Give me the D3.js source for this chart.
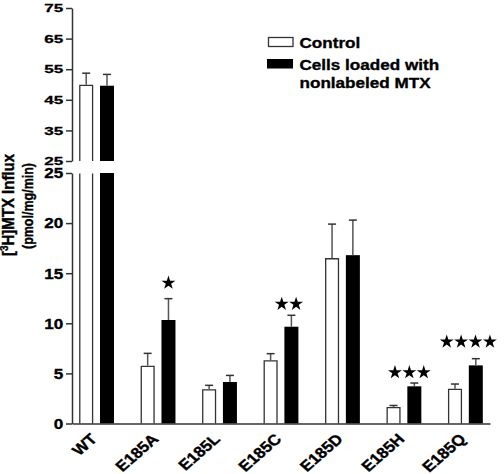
<!DOCTYPE html>
<html>
<head>
<meta charset="utf-8">
<script src="https://cdn.jsdelivr.net/npm/d3@7"></script>
<style>
  html, body { margin: 0; padding: 0; background: #fff; }
  svg { display: block; }
  text { font-family: "Liberation Sans", Arial, Helvetica, sans-serif; font-weight: bold; fill: #000; stroke: #000; stroke-width: 0.35px; }
</style>
</head>
<body>
<svg id="chart" width="504" height="474"></svg>
<script>
// ---- data ----
const categories = ["WT", "E185A", "E185L", "E185C", "E185D", "E185H", "E185Q"];
const control    = [49.9, 5.77, 3.41, 6.3, 16.5, 1.65, 3.47];
const controlErr = [3.8, 1.23, 0.4, 0.67, 3.4, 0.15, 0.47];
const loaded     = [49.6, 10.33, 4.14, 9.66, 16.8, 3.71, 5.8];
const loadedErr  = [3.7, 2.13, 0.66, 1.14, 3.5, 0.33, 0.67];
const starCounts = [0, 1, 0, 2, 0, 3, 4];
const starLevel  = [null, 14.1, null, 12.0, null, 5.17, 8.23];
const lowerTicks = [0, 5, 10, 15, 20, 25];
const upperTicks = [25, 35, 45, 55, 65, 75];
const seriesNames = ["Control", "Cells loaded with", "nonlabeled MTX"];

const SX = 1.14; // horizontal stretch of the original figure
const axisColor = "#333";

const svg = d3.select("#chart");

// ---- scales ----
const x = d3.scalePoint().domain(categories).range([72, 490]).padding(0.4);
const x1 = d3.scaleBand().domain(["control", "loaded"]).range([-17.4, 17.4]).paddingInner(0.327);
const yLow = d3.scaleLinear().domain([0, 25]).range([423.5, 173]);
const yUp = d3.scaleLinear().domain([25, 75]).range([161, 8]);
const BREAK = 25;

function yOf(v) { return v > BREAK ? yUp(v) : yLow(v); }

// ---- bars ----
const rows = categories.map((c, i) => ({
  c, i,
  vals: [
    { key: "control", v: control[i], e: controlErr[i] },
    { key: "loaded", v: loaded[i], e: loadedErr[i] }
  ]
}));

const gBars = svg.append("g");
rows.forEach(r => {
  r.vals.forEach(d => {
    const x0 = x(r.c) + x1(d.key);
    const w = x1.bandwidth();
    const segs = d.v > BREAK
      ? [{ y0: yLow(0), y1: yLow(BREAK), top: false }, { y0: yUp(BREAK), y1: yUp(d.v), top: true }]
      : [{ y0: yLow(0), y1: yLow(d.v), top: true }];
    segs.forEach(s => {
      if (d.key === "loaded") {
        gBars.append("rect")
          .attr("x", x0).attr("y", s.y1).attr("width", w).attr("height", s.y0 - s.y1)
          .attr("fill", "#000");
      } else {
        gBars.append("rect")
          .attr("x", x0).attr("y", s.y1).attr("width", w).attr("height", s.y0 - s.y1)
          .attr("fill", "#fff");
        const p = d3.path();
        p.moveTo(x0 + 0.6, s.y0);
        p.lineTo(x0 + 0.6, s.y1 + 0.6);
        if (s.top) p.lineTo(x0 + w - 0.6, s.y1 + 0.6); else p.moveTo(x0 + w - 0.6, s.y1 + 0.6);
        p.lineTo(x0 + w - 0.6, s.y0);
        gBars.append("path").attr("d", p.toString())
          .attr("fill", "none").attr("stroke", "#333").attr("stroke-width", 1.3);
      }
    });
    // error bar
    const cx = x0 + w / 2;
    const yt = yOf(d.v), ye = yOf(d.v + d.e);
    gBars.append("line").attr("x1", cx).attr("x2", cx).attr("y1", yt).attr("y2", ye)
      .attr("stroke", "#555").attr("stroke-width", 1.5);
    gBars.append("line").attr("x1", cx - 4).attr("x2", cx + 4).attr("y1", ye).attr("y2", ye)
      .attr("stroke", "#333").attr("stroke-width", 1.5);
  });
});

// ---- significance stars ----
const starSym = d3.symbol().type(d3.symbolStar).size(60);
categories.forEach((c, i) => {
  const n = starCounts[i];
  if (!n) return;
  const bc = x(c) + x1("loaded") + x1.bandwidth() / 2 - (n - 1) * 2.5;
  const cy = yLow(starLevel[i]) + 0.7;
  for (let k = 0; k < n; k++) {
    const sx = bc + (k - (n - 1) / 2) * 14.4;
    svg.append("path").attr("d", starSym()).attr("transform", `translate(${sx},${cy})`).attr("fill", "#000");
  }
});

// ---- axes ----
function styleAxis(g, sy) {
  g.select(".domain").attr("stroke", axisColor).attr("stroke-width", 1.5);
  g.selectAll(".tick line").attr("stroke", axisColor).attr("stroke-width", 1.5);
  g.selectAll(".tick text")
    .attr("font-size", 15).attr("font-family", null).attr("fill", null)
    .attr("x", -8.7 / SX)
    .attr("transform", `scale(${SX},${sy})`);
}
const gLow = svg.append("g").attr("transform", "translate(72,0)")
  .call(d3.axisLeft(yLow).tickValues(lowerTicks).tickSize(6).tickSizeOuter(0));
styleAxis(gLow, 1);
const gUp = svg.append("g").attr("transform", "translate(72,0)")
  .call(d3.axisLeft(yUp).tickValues(upperTicks).tickSize(6).tickSizeOuter(0));
styleAxis(gUp, 0.78);

const gX = svg.append("g").attr("transform", `translate(0,${yLow(0)})`)
  .call(d3.axisBottom(x).tickSize(0).tickSizeOuter(0));
gX.select(".domain").attr("stroke", axisColor).attr("stroke-width", 1.5);
gX.selectAll(".tick text")
  .attr("font-size", 15).attr("font-family", null).attr("fill", null)
  .attr("y", 0).attr("dy", 0).attr("x", 0)
  .attr("text-anchor", "end")
  .attr("transform", `translate(1,16.5) scale(${SX},1) rotate(-45)`);

// ---- y-axis title ----
const t1 = svg.append("text")
  .attr("text-anchor", "middle").attr("font-size", 15)
  .attr("transform", `translate(14,205) scale(${SX},1) rotate(-90)`);
t1.append("tspan").text("[");
t1.append("tspan").attr("font-size", 10).attr("dy", -5.5).text("3");
t1.append("tspan").attr("dy", 5.5).text("H]MTX Influx");
svg.append("text")
  .attr("text-anchor", "middle").attr("font-size", 12.5)
  .attr("transform", `translate(33,206) scale(${SX},1) rotate(-90)`)
  .text("(pmol/mg/min)");

// ---- legend ----
const lg = svg.append("g");
lg.append("rect").attr("x", 268.5).attr("y", 37.5).attr("width", 24.5).attr("height", 9)
  .attr("fill", "#fff").attr("stroke", "#333").attr("stroke-width", 1.3);
lg.append("rect").attr("x", 267).attr("y", 59).attr("width", 26).attr("height", 9.5).attr("fill", "#000");
const legendBaselines = [47.7, 70, 88.3];
seriesNames.forEach((s, i) => {
  lg.append("text").attr("font-size", 15)
    .attr("transform", `translate(299.5,${legendBaselines[i]}) scale(${SX},1)`)
    .text(s);
});
</script>
</body>
</html>
